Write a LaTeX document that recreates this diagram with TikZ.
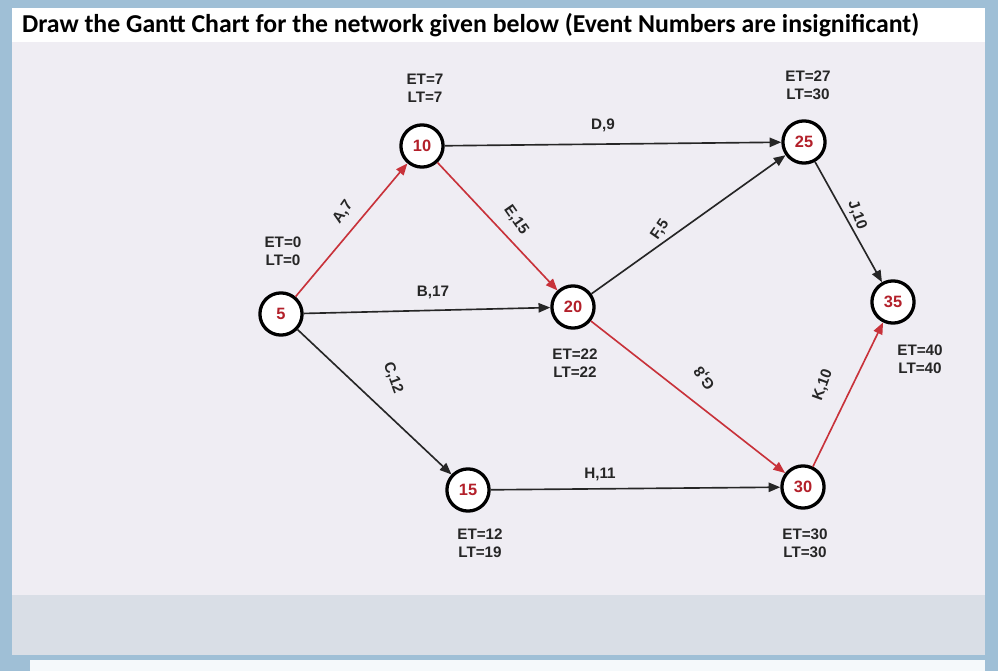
\documentclass[tikz,border=0pt]{standalone}
\usepackage{fontspec}
\setmainfont{Liberation Sans}
\newfontfamily\titlefont{Carlito}
\usetikzlibrary{arrows.meta}
\definecolor{bgblue}{HTML}{9FBFD6}
\definecolor{panel}{HTML}{EFEDF3}
\definecolor{lowpanel}{HTML}{D9DEE6}
\definecolor{ered}{HTML}{C8323A}
\definecolor{numred}{HTML}{B3202A}
\tikzset{
  ev/.style={circle,draw=black,line width=2.8pt,fill=white,minimum size=36pt,inner sep=0pt,
    font=\fontsize{14}{14}\selectfont\bfseries,text=numred},
  lab/.style={font=\fontsize{13}{15}\selectfont\bfseries,align=center,text=black!85},
  crit/.style={draw=ered,line width=1.4pt,-{Triangle[length=10pt,width=8pt]}},
  norm/.style={draw=black!85,line width=1.4pt,-{Triangle[length=10pt,width=8pt]}}
}
\begin{document}
\begin{tikzpicture}[x=0.03cm,y=-0.03cm]
\fill[bgblue] (0,0) rectangle (998,671);
\fill[lowpanel] (12,590) rectangle (985,655);
\fill[panel] (12,40) rectangle (985,595);
\fill[white] (12,8) rectangle (985,42);
\fill[white!90!bgblue] (30,660) rectangle (985,671);
\node[anchor=west,font=\titlefont\fontsize{22}{22}\selectfont\bfseries] (title) at (18,25) {Draw the Gantt Chart for the network given below (Event Numbers are insignificant)};

\node[ev] (n5) at (281,314) {5};
\node[ev] (n10) at (422,146) {10};
\node[ev] (n25) at (804,142) {25};
\node[ev] (n20) at (573,307) {20};
\node[ev] (n35) at (893,302) {35};
\node[ev] (n15) at (468,490) {15};
\node[ev] (n30) at (803,487) {30};

\draw[crit] (n5) -- (n10);
\draw[norm] (n5) -- (n20);
\draw[norm] (n5) -- (n15);
\draw[norm] (n10) -- (n25);
\draw[crit] (n10) -- (n20);
\draw[norm] (n20) -- (n25);
\draw[crit] (n20) -- (n30);
\draw[norm] (n15) -- (n30);
\draw[norm] (n25) -- (n35);
\draw[crit] (n30) -- (n35);

\node[lab,rotate=55] (la) at (343,212) {A,7};
\node[lab] (lb) at (433,292) {B,17};
\node[lab,rotate=-70] (lc) at (393,378) {C,12};
\node[lab] (ld) at (603,125) {D,9};
\node[lab,rotate=-55] (le) at (516,220) {E,15};
\node[lab,rotate=55] (lf) at (660,230) {F,5};
\node[lab,rotate=125] (lg) at (705,378) {G,8};
\node[lab] (lh) at (600,474) {H,11};
\node[lab,rotate=-70] (lj) at (857,215) {J,10};
\node[lab,rotate=70] (lk) at (823,385) {K,10};

\node[lab] (t10) at (425,88) {ET=7\\LT=7};
\node[lab] (t25) at (808,85) {ET=27\\LT=30};
\node[lab] (t5) at (283,251) {ET=0\\LT=0};
\node[lab] (t20) at (575,363) {ET=22\\LT=22};
\node[lab] (t35) at (920,359) {ET=40\\LT=40};
\node[lab] (t15) at (480,543) {ET=12\\LT=19};
\node[lab] (t30) at (805,543) {ET=30\\LT=30};
\end{tikzpicture}
\end{document}
